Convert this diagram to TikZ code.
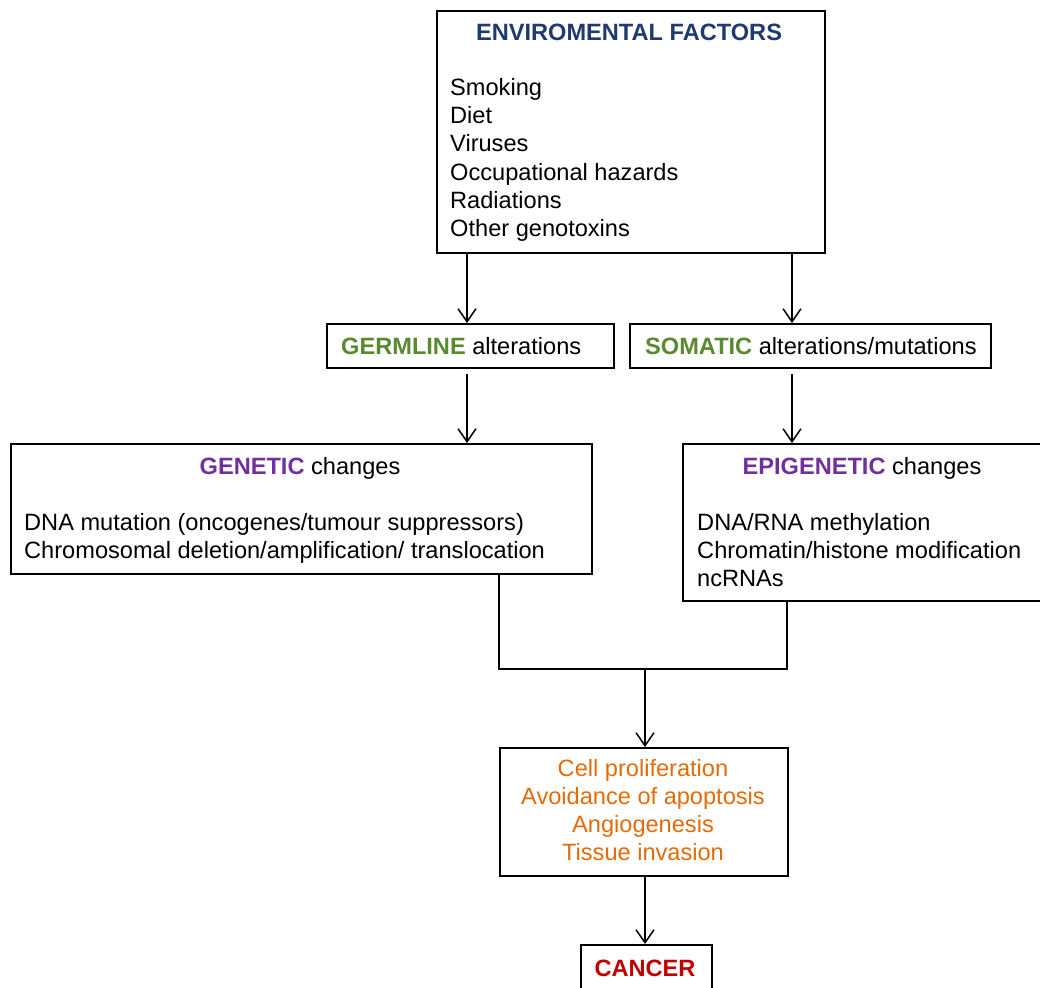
\documentclass[tikz,border=0pt]{standalone}
\usepackage{fontspec}
\setmainfont{Liberation Sans}
\usetikzlibrary{arrows.meta,calc}
\definecolor{navy}{HTML}{1F3A6E}
\definecolor{lgreen}{HTML}{5A8A2E}
\definecolor{purp}{HTML}{7030A0}
\definecolor{orng}{HTML}{E36C0A}
\definecolor{dred}{HTML}{C00000}
\begin{document}
\begin{tikzpicture}[x=1pt,y=-1pt,
  box/.style={draw=black, line width=1.6pt, rectangle, inner sep=0pt, anchor=north west},
  txt/.style={inner sep=0pt, font=\fontsize{23.6}{28}\selectfont},
  btxt/.style={inner sep=0pt, font=\fontsize{23.6}{28}\selectfont\bfseries},
  arr/.style={draw, line width=1.5pt, -{Straight Barb[length=13pt,width=18pt,line width=1.5pt]}},
  ln/.style={draw, line width=1.5pt}]
\useasboundingbox (0,0) rectangle (1040,987);
\clip (0,0) rectangle (1040,987);
\fill[white] (0,0) rectangle (1040,987);

% boxes
\node[box, minimum width=388pt, minimum height=242pt] (env) at (436,10) {};
\node[box, minimum width=287pt, minimum height=44pt] (germ) at (326,323) {};
\node[box, minimum width=361pt, minimum height=44pt] (som) at (629,323) {};
\node[box, minimum width=581pt, minimum height=130pt] (gen) at (10,443) {};
\node[box, minimum width=362pt, minimum height=157pt] (epi) at (682,443) {};
\node[box, minimum width=288pt, minimum height=128pt] (out) at (499,747) {};
\node[box, minimum width=131pt, minimum height=70pt] (cancer) at (580,944) {};

% environmental factors
\node[btxt, anchor=base, text=navy] (envT) at (629,41) {ENVIROMENTAL FACTORS};
\foreach \t [count=\i] in {Smoking, Diet, Viruses, Occupational hazards, Radiations, Other genotoxins}
  \node[txt, anchor=base west] (env\i) at (450,{96+28*(\i-1)}) {\t};

% germline / somatic
\node[txt, anchor=base west] (germT) at (341,354) {\textcolor{lgreen}{\bfseries GERMLINE} alterations};
\node[txt, anchor=base west] (somT) at (645,354) {\textcolor{lgreen}{\bfseries SOMATIC} alterations/mutations};

% genetic
\node[txt, anchor=base] (genT) at (300,474) {\textcolor{purp}{\bfseries GENETIC} changes};
\node[txt, anchor=base west] (gen1) at (24,530) {DNA mutation (oncogenes/tumour suppressors)};
\node[txt, anchor=base west] (gen2) at (24,558) {Chromosomal deletion/amplification/ translocation};

% epigenetic
\node[txt, anchor=base] (epiT) at (862,474) {\textcolor{purp}{\bfseries EPIGENETIC} changes};
\node[txt, anchor=base west] (epi1) at (697,530) {DNA/RNA methylation};
\node[txt, anchor=base west] (epi2) at (697,558) {Chromatin/histone modification};
\node[txt, anchor=base west] (epi3) at (697,586) {ncRNAs};

% outcome
\foreach \t [count=\i] in {Cell proliferation, Avoidance of apoptosis, Angiogenesis, Tissue invasion}
  \node[txt, anchor=base, text=orng] (out\i) at (643,{776+28*(\i-1)}) {\t};

% cancer
\node[btxt, anchor=base, text=dred] (cancerT) at (645,976) {CANCER};

% connectors
\coordinate (xL) at (467,0);
\coordinate (xR) at (792,0);
\coordinate (jL) at (499,669);
\coordinate (jR) at (787,669);
\coordinate (join) at (645,669);
\draw[arr] (env.south -| xL) -- (germ.north -| xL);
\draw[arr] (env.south -| xR) -- (som.north -| xR);
\draw[arr, shorten <=5pt] (germ.south -| xL) -- (gen.north -| xL);
\draw[arr, shorten <=5pt] (som.south -| xR) -- (epi.north -| xR);
\draw[ln] (gen.south -| jL) -- (jL) -- (jR) -- (epi.south -| jR);
\draw[arr] (join) -- (out.north -| join);
\draw[arr] (out.south -| join) -- (cancer.north -| join);
\end{tikzpicture}
\end{document}
